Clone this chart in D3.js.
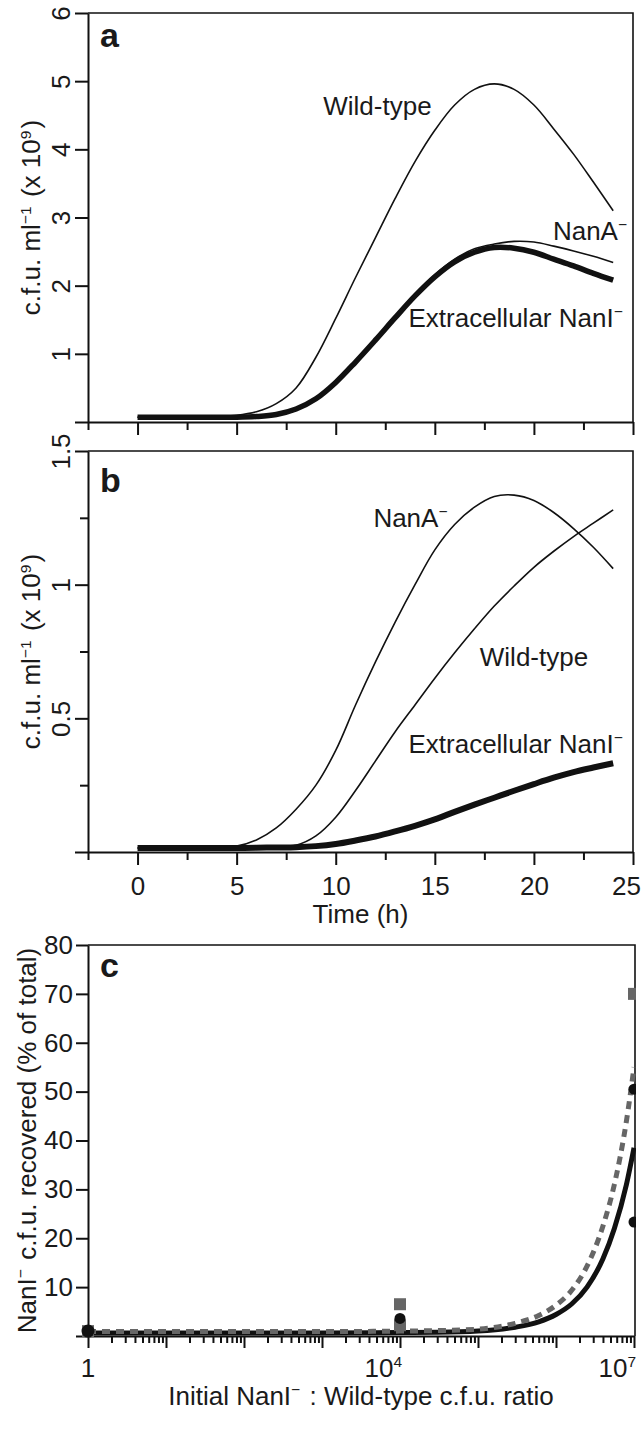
<!DOCTYPE html>
<html><head><meta charset="utf-8">
<script src="https://cdn.jsdelivr.net/npm/d3@7"></script>
<style>
body{margin:0;background:#fff;}
svg{display:block;}
text{font-family:"Liberation Sans",Arial,Helvetica,sans-serif;fill:#1a1a1a;}
</style></head><body><svg id="chart" width="641" height="1437"></svg>
<script>
// ---------- Data ----------
const timeH = [0,2,4,5,6,7,8,9,10,11,12,13,14,15,16,17,18,19,20,21,22,23,24];
// Panel a (x 10^9 c.f.u./ml)
const wildA  = [0.07,0.08,0.09,0.10,0.15,0.27,0.50,0.95,1.52,2.12,2.70,3.28,3.82,4.28,4.65,4.88,4.96,4.88,4.65,4.30,3.93,3.52,3.10];
const nanaA  = [0.07,0.07,0.07,0.07,0.08,0.11,0.20,0.35,0.60,0.90,1.22,1.55,1.87,2.16,2.39,2.54,2.61,2.65,2.64,2.58,2.51,2.43,2.34];
const extraA = [0.07,0.07,0.07,0.07,0.08,0.11,0.19,0.34,0.58,0.88,1.20,1.53,1.85,2.13,2.35,2.49,2.56,2.55,2.49,2.39,2.29,2.18,2.08];
// Panel b
const nanaB  = [0.015,0.016,0.018,0.022,0.045,0.09,0.16,0.25,0.38,0.55,0.71,0.86,1.00,1.13,1.225,1.29,1.33,1.335,1.315,1.27,1.21,1.14,1.06];
const wildB  = [0.015,0.015,0.016,0.016,0.017,0.018,0.025,0.06,0.13,0.23,0.34,0.45,0.55,0.65,0.745,0.835,0.92,0.995,1.065,1.125,1.18,1.23,1.28];
const extraB = [0.015,0.015,0.015,0.015,0.016,0.017,0.018,0.022,0.030,0.043,0.058,0.077,0.098,0.122,0.150,0.177,0.203,0.229,0.254,0.278,0.299,0.316,0.332];
// Panel c
const ratioC = [1,10,100,1000,1e4,3e4,1e5,3e5,6e5,1e6,1.6e6,2.5e6,4e6,5.6e6,8e6,1e7];
const solidC = [0.6,0.6,0.6,0.6,0.7,0.75,1.0,1.8,2.9,4.4,6.6,10,15.8,22,31,38.5];
const dashC  = [0.9,0.9,0.9,0.9,1.0,1.1,1.4,2.6,4.2,6.3,9.4,14.3,22.5,31,44,55];
const squareX = [1,1e4,1e4,1e7];
const squareY = [1.0,6.5,2.2,70];
const circleX = [1,1e4,1e7,1e7];
const circleY = [1.0,3.6,50.5,23.3];
// Tick labels
const yTicksA = [0,1,2,3,4,5,6];
const yTicksB = [0,0.5,1,1.5];
const yMinorB = [0.25,0.75,1.25];
const xMajorT = [0,5,10,15,20,25];
const xMinorT = [-2.5,2.5,7.5,12.5,17.5,22.5];
const yTicksC = [0,10,20,30,40,50,60,70,80];
const xLabelsC = [{v:1,base:"1",sup:""},{v:1e4,base:"10",sup:"4"},{v:1e7,base:"10",sup:"7"}];

// ---------- Setup ----------
const svg = d3.select("#chart");
svg.append("rect").attr("width",641).attr("height",1437).attr("fill","#fff");
const FS = 26, SUP = 15.5, INK = "#111", GRAY = "#666";
const L = 88, R = 633;

function richText(sel, parts, supSize, raise){
  parts.forEach(p=>{
    if(p[1]){
      sel.append("tspan").attr("dy",-raise).attr("font-size",supSize).text(p[0]);
      sel.append("tspan").attr("dy",raise).attr("font-size",FS).text("\u200A");
    } else sel.append("tspan").text(p[0]);
  });
}
function styleAxis(g){
  g.selectAll("path,line").attr("stroke",INK).attr("stroke-width",2);
  g.selectAll("text").attr("font-size",FS).attr("fill","#1a1a1a").attr("font-family",'"Liberation Sans",Arial,sans-serif');
}

function growthPanel(o){
  const x = d3.scaleLinear().domain([-2.5,25]).range([L,R]);
  const y = d3.scaleLinear().domain([0,o.yMax]).range([o.bottom,o.top]);
  const g = svg.append("g");
  g.append("path").attr("d",`M${L},${o.top}H${R}V${o.bottom}`).attr("fill","none").attr("stroke",INK).attr("stroke-width",1.6);
  const ya = g.append("g").attr("transform",`translate(${L},0)`)
    .call(d3.axisLeft(y).tickValues(o.yTicks).tickSize(13).tickSizeOuter(0).tickFormat(d=>d===0?"":d3.format("~g")(d)));
  styleAxis(ya);
  ya.selectAll(".tick text").attr("x",0).attr("dy",0).attr("text-anchor","middle").attr("transform","translate(-18,0) rotate(-90)");
  if(o.yMinor){
    const ym = g.append("g").attr("transform",`translate(${L},0)`)
      .call(d3.axisLeft(y).tickValues(o.yMinor).tickSize(8).tickFormat(""));
    styleAxis(ym); ym.select(".domain").remove();
  }
  const xa = g.append("g").attr("transform",`translate(0,${o.bottom})`)
    .call(d3.axisBottom(x).tickValues(xMajorT).tickSize(13).tickSizeOuter(0).tickPadding(12).tickFormat(o.xLabels?d3.format("d"):""));
  styleAxis(xa);
  xa.selectAll(".tick text").filter(d=>d===25).attr("dx",-7);
  const xm = g.append("g").attr("transform",`translate(0,${o.bottom})`)
    .call(d3.axisBottom(x).tickValues(xMinorT).tickSize(8).tickFormat(""));
  styleAxis(xm); xm.select(".domain").remove();
  const line = d3.line().x((d,i)=>x(timeH[i])).y(d=>y(d)).curve(d3.curveCatmullRom.alpha(0.5));
  o.series.forEach(s=>{
    g.append("path").datum(s.vals).attr("d",line).attr("fill","none")
      .attr("stroke",INK).attr("stroke-width",s.w).attr("stroke-linecap","butt");
  });
  o.labels.forEach(l=>{
    const t = g.append("text").attr("x",x(l.t)).attr("y",y(l.v)).attr("font-size",FS);
    richText(t, l.parts, SUP, 10);
  });
  g.append("text").attr("x",100).attr("y",o.top+o.letterDy).attr("font-size",34).attr("font-weight","bold").text(o.letter);
  const cy = (o.top+o.bottom)/2;
  const yt = g.append("text").attr("text-anchor","middle").attr("font-size",FS)
    .attr("transform",`translate(40,${cy}) rotate(-90)`);
  richText(yt, [["c.f.u. ml",0],["\u22121",1],[" (x 10",0],["9",1],[")",0]], SUP, 9);
  return {x,y,g};
}

// Panel a
growthPanel({top:13,bottom:422,yMax:6,yTicks:yTicksA,yMinor:null,xLabels:false,letter:"a",letterDy:34,
  series:[{vals:extraA,w:5.5},{vals:wildA,w:1.6},{vals:nanaA,w:1.6}],
  labels:[
    {t:9.37,v:4.5,parts:[["Wild-type",0]]},
    {t:20.96,v:2.67,parts:[["NanA",0],["\u2212",1]]},
    {t:13.67,v:1.39,parts:[["Extracellular NanI",0],["\u2212",1]]}
  ]});
// Panel b
growthPanel({top:451,bottom:852,yMax:1.5,yTicks:yTicksB,yMinor:yMinorB,xLabels:true,letter:"b",letterDy:41,
  series:[{vals:extraB,w:6},{vals:wildB,w:1.6},{vals:nanaB,w:1.6}],
  labels:[
    {t:11.9,v:1.216,parts:[["NanA",0],["\u2212",1]]},
    {t:17.27,v:0.696,parts:[["Wild-type",0]]},
    {t:13.67,v:0.37,parts:[["Extracellular NanI",0],["\u2212",1]]}
  ]});
svg.append("text").attr("x",(L+R)/2).attr("y",923).attr("text-anchor","middle").attr("font-size",FS).text("Time (h)");

// Panel c
(function(){
  const top=945, bottom=1336, RC=634;
  const x = d3.scaleLog().domain([1,1e7]).range([L,RC]);
  const y = d3.scaleLinear().domain([0,80]).range([bottom,top]);
  const g = svg.append("g");
  g.append("path").attr("d",`M${L},${top}H${RC+1}V${bottom}`).attr("fill","none").attr("stroke",INK).attr("stroke-width",1.6);
  const ya = g.append("g").attr("transform",`translate(${L},0)`)
    .call(d3.axisLeft(y).tickValues(yTicksC).tickSize(12).tickSizeOuter(0).tickPadding(3).tickFormat(d=>d===0?"":d));
  styleAxis(ya);
  const majors = d3.range(0,8).map(e=>Math.pow(10,e));
  const minors = [];
  for(let e=0;e<7;e++) for(let k=2;k<10;k++) minors.push(k*Math.pow(10,e));
  const xa = g.append("g").attr("transform",`translate(0,${bottom})`)
    .call(d3.axisBottom(x).tickValues(majors).tickSize(12).tickSizeOuter(0).tickFormat(""));
  styleAxis(xa);
  const xm = g.append("g").attr("transform",`translate(0,${bottom})`)
    .call(d3.axisBottom(x).tickValues(minors).tickSize(7).tickFormat(""));
  styleAxis(xm); xm.select(".domain").remove();
  xLabelsC.forEach(l=>{
    const t = g.append("text").attr("x",l.sup? x(l.v)+2 : x(l.v)).attr("y",bottom+41).attr("font-size",FS)
      .attr("text-anchor",l.sup?"end":"middle");
    t.append("tspan").text(l.base);
    if(l.sup) t.append("tspan").attr("dy",-10).attr("font-size",SUP).text(l.sup);
  });
  svg.append("defs").append("clipPath").attr("id","clipC").append("rect")
    .attr("x",0).attr("y",top-20).attr("width",RC+2).attr("height",bottom-top+40);
  const pg = g.append("g").attr("clip-path","url(#clipC)");
  const line = (arr)=>d3.line().x((d,i)=>x(ratioC[i])).y(d=>y(d)).curve(d3.curveMonotoneX)(arr);
  pg.append("path").attr("d",line(solidC)).attr("fill","none").attr("stroke",INK).attr("stroke-width",5);
  pg.append("path").attr("d",line(dashC)).attr("fill","none").attr("stroke",GRAY).attr("stroke-width",5).attr("stroke-dasharray","8,6");
  pg.selectAll("rect.sq").data(squareX).enter().append("rect").attr("class","sq")
    .attr("x",(d)=>x(d)-6).attr("y",(d,i)=>y(squareY[i])-6).attr("width",12).attr("height",12).attr("fill",GRAY);
  pg.selectAll("circle.ci").data(circleX).enter().append("circle").attr("class","ci")
    .attr("cx",d=>x(d)).attr("cy",(d,i)=>y(circleY[i])).attr("r",(d,i)=>i===0?6.5:5.5).attr("fill",INK);
  g.append("text").attr("x",100).attr("y",top+32).attr("font-size",34).attr("font-weight","bold").text("c");
  const yt = g.append("text").attr("text-anchor","middle").attr("font-size",FS)
    .attr("transform",`translate(36,${(top+bottom)/2}) rotate(-90)`);
  richText(yt, [["NanI",0],["\u2212",1],[" c.f.u. recovered (% of total)",0]], SUP, 10);
  const xt = g.append("text").attr("x",(L+RC)/2).attr("y",1405).attr("text-anchor","middle").attr("font-size",FS);
  richText(xt, [["Initial NanI",0],["\u2212",1],[" : Wild-type c.f.u. ratio",0]], SUP, 10);
})();
</script></body></html>
